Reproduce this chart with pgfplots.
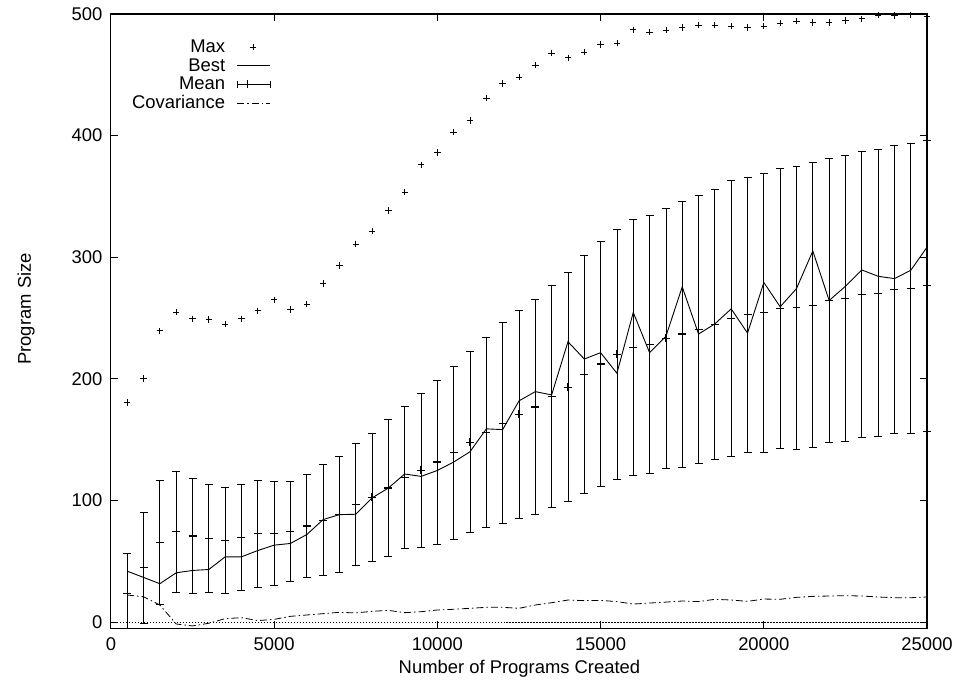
\documentclass[border=0pt]{standalone}
\usepackage{fontspec}
\setmainfont{Liberation Sans}
\usepackage{pgfplots}
\usepackage{pgfplotstable}
\pgfplotsset{compat=1.18}
\usetikzlibrary{calc}

% x  max  best  mean  sd  sdm(clamped lower error)  cov
\pgfplotstableread{
x max best mean sd sdm cov
500 180.5 42.0 23.5 33.0 28.5 22.4
1000 200.3 36.9 45.0 45.7 45.7 21.0
1500 239.6 31.7 65.3 51.0 51.0 14.2
2000 255.0 40.7 74.3 49.5 49.5 -1.4
2500 249.4 42.6 71.0 47.0 47.0 -3.0
3000 249.0 43.4 68.6 44.4 44.4 -0.8
3500 245.0 53.8 67.2 43.4 43.4 3.0
4000 249.4 53.8 70.0 43.6 43.6 3.8
4500 256.0 59.0 72.7 44.0 44.0 1.4
5000 265.0 63.4 73.2 42.6 42.6 2.4
5500 257.0 64.8 74.8 41.0 41.0 4.9
6000 261.7 72.1 79.2 42.4 42.4 6.0
6500 278.4 84.4 83.9 45.5 45.5 7.1
7000 293.4 88.5 88.8 47.6 47.6 8.2
7500 311.0 88.8 96.7 50.2 50.2 7.7
8000 321.6 102.2 102.7 52.7 52.7 9.0
8500 338.5 110.4 110.4 56.0 56.0 9.8
9000 353.5 121.9 119.1 58.3 58.3 7.9
9500 376.0 119.9 124.8 63.2 63.2 8.7
10000 386.0 124.8 131.7 67.5 67.5 10.1
10500 403.0 131.7 139.3 71.4 71.4 10.7
11000 412.5 140.2 148.1 74.5 74.5 11.5
11500 431.0 159.0 156.0 78.0 78.0 12.3
12000 443.0 158.4 163.7 82.5 82.5 12.3
12500 448.0 182.0 171.0 85.7 85.7 11.5
13000 458.0 189.6 177.0 88.6 88.6 14.2
13500 468.0 186.9 185.8 91.0 91.0 16.1
14000 464.0 230.6 193.2 94.0 94.0 18.3
14500 468.6 216.4 203.5 97.7 97.7 17.8
15000 475.0 221.6 212.3 100.6 100.6 18.0
15500 476.0 204.7 220.2 103.0 103.0 17.0
16000 487.0 254.7 226.0 105.0 105.0 15.0
16500 485.0 221.6 228.4 105.8 105.8 15.8
17000 486.6 235.0 233.4 107.2 107.2 16.6
17500 488.8 275.7 236.9 109.2 109.2 17.5
18000 491.0 236.9 240.7 110.2 110.2 17.0
18500 490.7 245.3 245.0 111.2 111.2 18.9
19000 490.0 257.6 249.7 113.2 113.2 18.3
19500 489.0 237.7 252.7 113.3 113.3 17.2
20000 490.0 279.3 254.4 114.5 114.5 19.1
20500 492.6 259.3 258.0 115.0 115.0 18.9
21000 494.0 274.3 258.5 116.2 116.2 20.5
21500 493.0 305.2 260.7 117.0 117.0 21.3
22000 493.0 264.5 264.5 116.5 116.5 21.6
22500 494.5 276.2 266.1 117.3 117.3 21.9
23000 496.0 289.6 269.4 117.4 117.4 21.6
23500 499.0 284.4 270.5 117.8 117.8 20.8
24000 498.6 282.5 273.5 118.6 118.6 20.2
24500 499.4 289.3 274.6 119.0 119.0 20.2
25000 498.0 308.4 276.5 119.2 119.2 20.8
}\runs

\newcommand{\gfont}{\fontsize{18.5}{20}\selectfont}
% invisible span so every legend sample keeps the gap after its text
\newcommand{\legspan}{\path[draw=none, fill=none] (0bp,0)--(46bp,0);}

\begin{document}
\begin{tikzpicture}
\begin{axis}[
    scale only axis,
    width=817bp, height=615bp,
    xmin=0, xmax=25000,
    ymin=-5, ymax=500,
    clip=false,
    xtick={0,5000,...,25000},
    ytick={0,100,...,500},
    minor tick num=0,
    tick align=inside,
    major tick length=7bp,
    every tick/.style={black, line width=1bp},
    axis line style={line width=1.2bp},
    scaled x ticks=false,
    /pgf/number format/.cd, 1000 sep={}, assume math mode=true, /pgfplots/.cd,
    tick label style={font=\gfont},
    xticklabel style={yshift=-6bp},
    yticklabel style={xshift=-5bp},
    xlabel={Number of Programs Created},
    ylabel={Program Size},
    every axis x label/.style={at={(axis description cs:0.5006,-0.066)}, anchor=center, font=\gfont},
    every axis y label/.style={at={(axis description cs:-0.104,0.52)}, rotate=90, anchor=center, font=\gfont},
    legend style={at={(axis description cs:0.022,0.965)}, anchor=north west,
        draw=none, fill=none, font=\gfont, legend cell align=right,
        nodes={inner ysep=2.2bp, inner xsep=0bp}},
    legend plot pos=right,
]
% zero axis
\addplot[black, line width=0.6bp, dash pattern=on 1.5bp off 1.5bp, forget plot]
    coordinates {(0,0) (25000,0)};

\addplot[only marks, mark=+, mark size=3.2bp, line width=0.8bp, black,
    legend image code/.code={\legspan \draw[line width=0.8bp] plot[only marks, mark=+, mark size=3.2bp] coordinates {(28bp,0)};}]
    table[x=x, y=max] {\runs};
\addlegendentry{Max}

\addplot[sharp plot, no marks, black, line width=0.9bp,
    legend image code/.code={\legspan \draw[line width=0.9bp] (12bp,0)--(45bp,0);}]
    table[x=x, y=best] {\runs};
\addlegendentry{Best}

\addplot[only marks, mark=+, mark size=4bp, line width=1.2bp, black,
    error bars/.cd, y dir=both, y explicit,
    error bar style={line width=0.8bp, black},
    error mark options={rotate=90, mark size=4bp, line width=0.8bp},
    /pgfplots/.cd,
    legend image code/.code={\legspan \draw[line width=0.8bp] (12bp,-3.5bp)--(12bp,3.5bp) (12bp,0)--(45bp,0) (45bp,-3.5bp)--(45bp,3.5bp);
        \draw[line width=1.1bp] plot[only marks, mark=+, mark size=4bp] coordinates {(22bp,0)};}]
    table[x=x, y=mean, y error plus=sd, y error minus=sdm] {\runs};
\addlegendentry{Mean}

\addplot[sharp plot, no marks, black, line width=0.8bp,
    dash pattern=on 7bp off 3bp on 1.5bp off 3bp,
    legend image code/.code={\legspan \draw[line width=0.8bp, dash pattern=on 7bp off 3bp on 1.5bp off 3bp] (12bp,0)--(45bp,0);}]
    table[x=x, y=cov] {\runs};
\addlegendentry{Covariance}
\end{axis}
\path ($(current axis.south west)+(-111bp,-46bp)$) rectangle ($(current axis.north east)+(28bp,14bp)$);
\end{tikzpicture}
\end{document}
